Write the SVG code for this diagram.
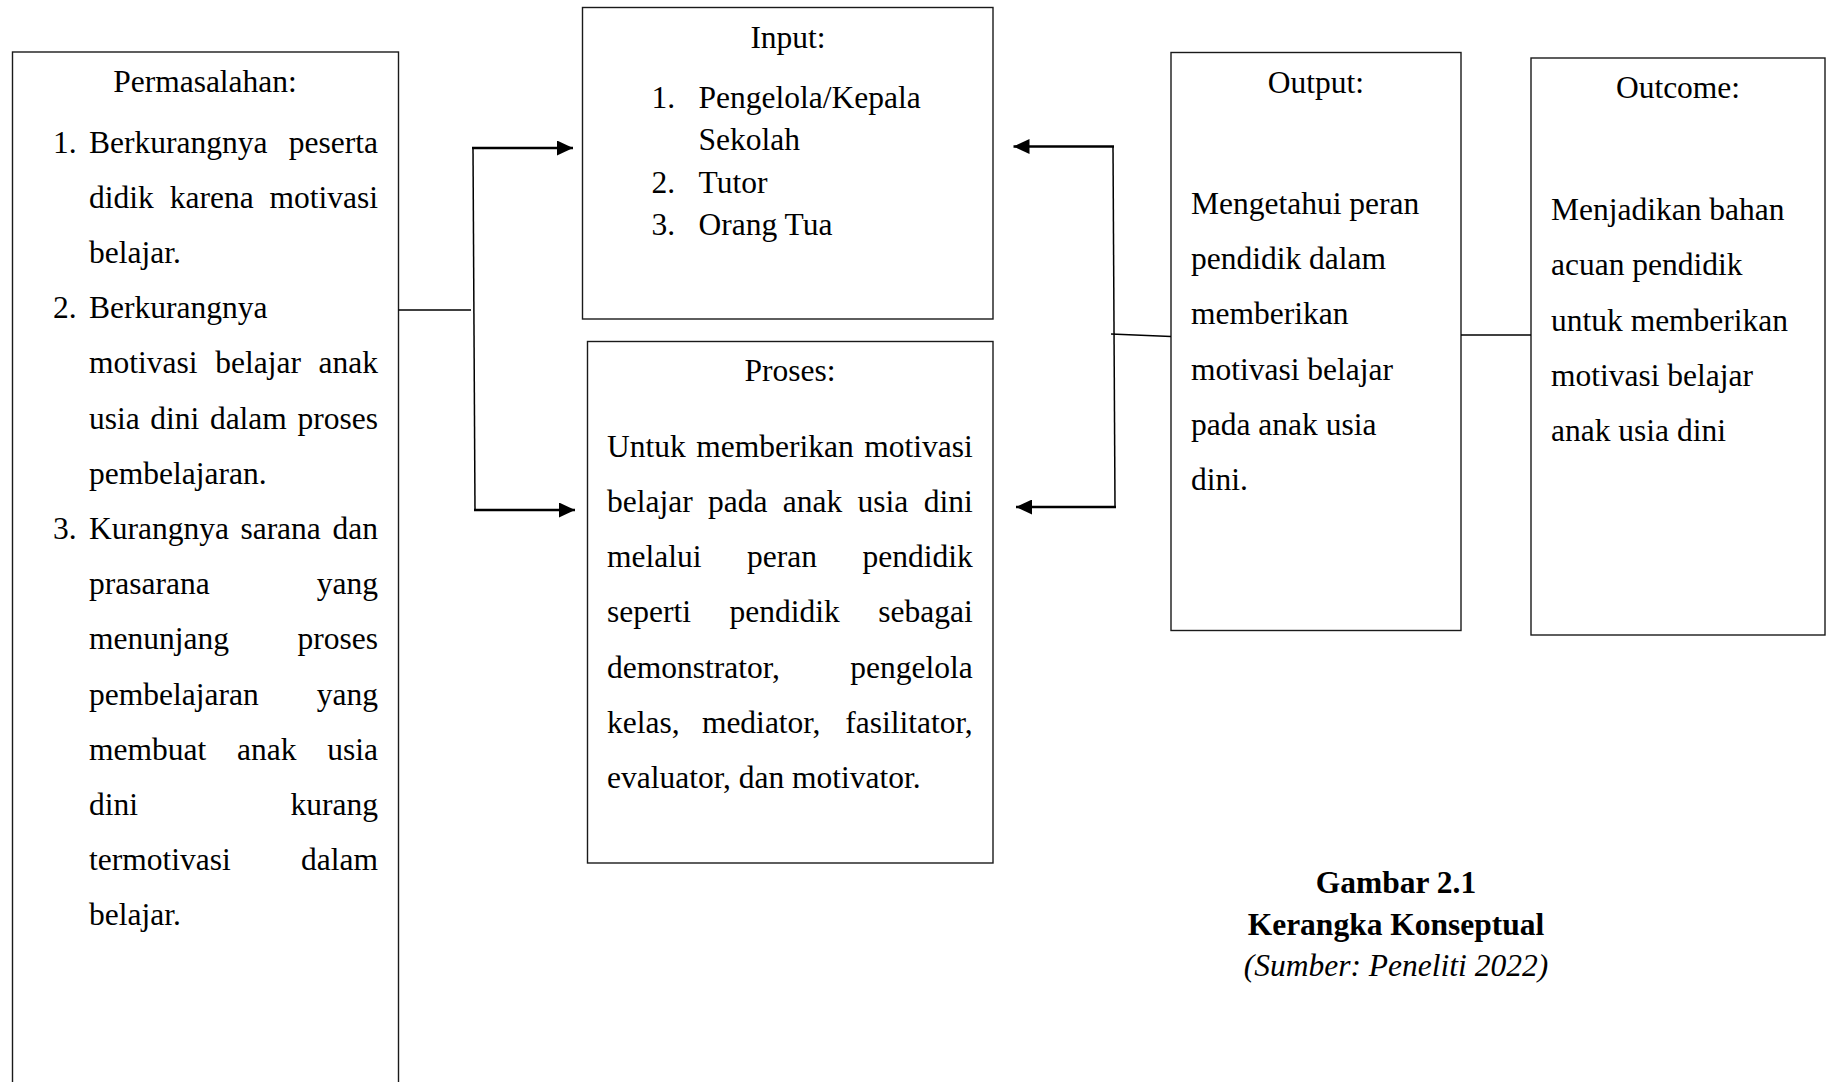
<svg xmlns="http://www.w3.org/2000/svg" width="1827" height="1082" viewBox="0 0 1827 1082">
<style>
text{font-family:"Liberation Serif","Times New Roman",serif;font-size:31.5px;fill:#000}
.box{fill:#fff;stroke:#1a1a1a;stroke-width:1.4}
.c{text-anchor:middle}
.e{text-anchor:end}
.b{font-weight:bold}
.i{font-style:italic}
.ln{fill:none;stroke:#000;stroke-width:1.5}
.ar{fill:none;stroke:#000;stroke-width:2.3}
</style>
<defs>
<marker id="ah" markerWidth="16" markerHeight="15" refX="16" refY="7.5" orient="auto" markerUnits="userSpaceOnUse">
<path d="M0,0 L16,7.5 L0,15 Z" fill="#000"/>
</marker>
</defs>
<rect width="1827" height="1082" fill="#fff"/>

<g id="permasalahan">
<rect class="box" x="12.5" y="52" width="386" height="1060"/>
<text class="c" x="205" y="92">Permasalahan:</text>
<text x="53" y="152.5">1.</text><text x="89" y="152.5">Berkurangnya</text><text class="e" x="378" y="152.5">peserta</text>
<text x="89" y="207.7">didik</text><text x="169.7" y="207.7">karena</text><text class="e" x="378" y="207.7">motivasi</text>
<text x="89" y="262.9">belajar.</text>
<text x="53" y="318.1">2.</text><text x="89" y="318.1">Berkurangnya</text>
<text x="89" y="373.3">motivasi</text><text x="215.2" y="373.3">belajar</text><text class="e" x="378" y="373.3">anak</text>
<text x="89" y="428.5">usia</text><text x="150.3" y="428.5">dini</text><text x="209.9" y="428.5">dalam</text><text class="e" x="378" y="428.5">proses</text>
<text x="89" y="483.7">pembelajaran.</text>
<text x="53" y="538.9">3.</text><text x="89" y="538.9">Kurangnya</text><text x="240.4" y="538.9">sarana</text><text class="e" x="378" y="538.9">dan</text>
<text x="89" y="594.1">prasarana</text><text class="e" x="378" y="594.1">yang</text>
<text x="89" y="649.3">menunjang</text><text class="e" x="378" y="649.3">proses</text>
<text x="89" y="704.5">pembelajaran</text><text class="e" x="378" y="704.5">yang</text>
<text x="89" y="759.7">membuat</text><text x="237" y="759.7">anak</text><text class="e" x="378" y="759.7">usia</text>
<text x="89" y="814.9">dini</text><text class="e" x="378" y="814.9">kurang</text>
<text x="89" y="870.1">termotivasi</text><text class="e" x="378" y="870.1">dalam</text>
<text x="89" y="925.3">belajar.</text>
</g>

<g id="input">
<rect class="box" x="582.5" y="7.5" width="410.5" height="311.5"/>
<text class="c" x="788" y="48">Input:</text>
<text x="651.5" y="108">1.</text><text x="698.5" y="108">Pengelola/Kepala</text>
<text x="698.5" y="150">Sekolah</text>
<text x="651.5" y="192.5">2.</text><text x="698.5" y="192.5">Tutor</text>
<text x="651.5" y="235">3.</text><text x="698.5" y="235">Orang Tua</text>
</g>

<g id="proses">
<rect class="box" x="587.5" y="341.5" width="405.5" height="521.5"/>
<text class="c" x="790" y="381">Proses:</text>
<text x="607" y="456.5">Untuk</text><text x="696.3" y="456.5">memberikan</text><text class="e" x="972.7" y="456.5">motivasi</text>
<text x="607" y="511.8">belajar</text><text x="708" y="511.8">pada</text><text x="782.8" y="511.8">anak</text><text x="857.6" y="511.8">usia</text><text class="e" x="972.7" y="511.8">dini</text>
<text x="607" y="567.1">melalui</text><text x="747" y="567.1">peran</text><text class="e" x="972.7" y="567.1">pendidik</text>
<text x="607" y="622.4">seperti</text><text x="729.5" y="622.4">pendidik</text><text class="e" x="972.7" y="622.4">sebagai</text>
<text x="607" y="677.7">demonstrator,</text><text class="e" x="972.7" y="677.7">pengelola</text>
<text x="607" y="733">kelas,</text><text x="701.9" y="733">mediator,</text><text class="e" x="972.7" y="733">fasilitator,</text>
<text x="607" y="788.3">evaluator, dan motivator.</text>
</g>

<g id="output">
<rect class="box" x="1171" y="52.5" width="290" height="578"/>
<text class="c" x="1316" y="93">Output:</text>
<text x="1191" y="214">Mengetahui peran</text>
<text x="1191" y="269.2">pendidik dalam</text>
<text x="1191" y="324.4">memberikan</text>
<text x="1191" y="379.6">motivasi belajar</text>
<text x="1191" y="434.8">pada anak usia</text>
<text x="1191" y="490">dini.</text>
</g>

<g id="outcome">
<rect class="box" x="1531" y="58" width="294" height="577"/>
<text class="c" x="1678" y="97.5">Outcome:</text>
<text x="1551" y="220">Menjadikan bahan</text>
<text x="1551" y="275.3">acuan pendidik</text>
<text x="1551" y="330.6">untuk memberikan</text>
<text x="1551" y="385.9">motivasi belajar</text>
<text x="1551" y="441.2">anak usia dini</text>
</g>

<g id="caption">
<text class="c b" x="1396" y="893">Gambar 2.1</text>
<text class="c b" x="1396" y="935">Kerangka Konseptual</text>
<text class="c i" x="1396" y="976">(Sumber: Peneliti 2022)</text>
</g>

<g id="connectors">
<line class="ln" x1="398.5" y1="310" x2="471" y2="310"/>
<line class="ln" x1="473" y1="148" x2="475" y2="510"/>
<line class="ar" x1="472" y1="148" x2="573" y2="148" marker-end="url(#ah)"/>
<line class="ar" x1="474" y1="510" x2="575" y2="510" marker-end="url(#ah)"/>
<line class="ln" x1="1113" y1="146.5" x2="1115" y2="507"/>
<line class="ln" x1="1111" y1="334" x2="1171" y2="336.5"/>
<line class="ar" x1="1114" y1="146.5" x2="1013.5" y2="146.5" marker-end="url(#ah)"/>
<line class="ar" x1="1116" y1="507" x2="1016" y2="507" marker-end="url(#ah)"/>
<line class="ln" x1="1461" y1="335" x2="1531" y2="335"/>
</g>
</svg>
